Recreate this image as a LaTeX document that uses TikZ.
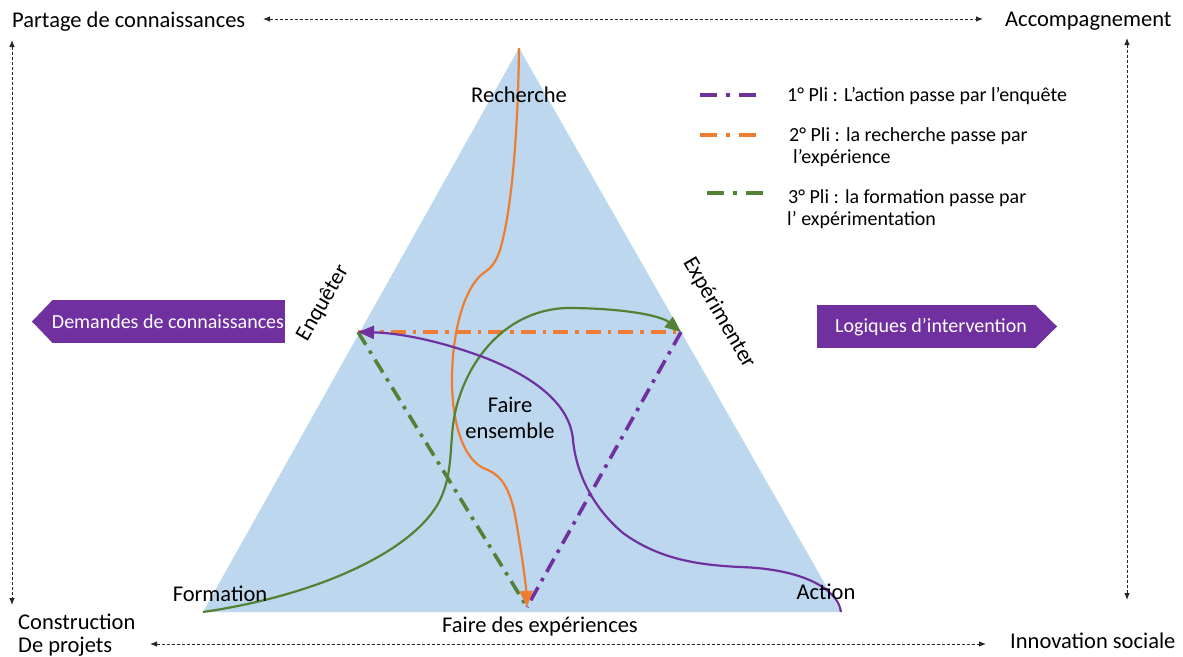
\documentclass[tikz,border=0pt]{standalone}
\usepackage{fontspec}
\setmainfont{Carlito}
\usetikzlibrary{arrows.meta}
\definecolor{triblue}{HTML}{BDD7EE}
\definecolor{plum}{HTML}{7030A0}
\definecolor{orng}{HTML}{ED7D31}
\definecolor{grn}{HTML}{548235}
\begin{document}
\begin{tikzpicture}[x=1pt,y=-1pt,
  lbl/.style={font=\fontsize{22.5}{27}\selectfont, inner sep=0pt, anchor=base},
  lblw/.style={font=\fontsize{22.5}{27}\selectfont, inner sep=0pt, anchor=base west},
  leg/.style={font=\fontsize{20}{24}\selectfont, inner sep=0pt, anchor=base west},
  axisline/.style={dash pattern=on 3pt off 2pt, line width=0.9pt, draw=black!85,
     {Latex[length=7pt,width=5.5pt]}-{Latex[length=7pt,width=5.5pt]}},
  dashdot/.style={line width=3.6pt, dash pattern=on 15pt off 7pt on 3.5pt off 7pt},
  legline/.style={line width=3.8pt, dash pattern=on 17pt off 9pt on 4pt off 9pt},
  curve/.style={line width=2.2pt, -{Triangle[length=16pt,width=13pt]}},
  body/.style={fill=plum, minimum height=43pt, inner sep=0pt},
  boxtext/.style={font=\fontsize{20}{24}\selectfont, text=white, inner sep=0pt, anchor=base}
]
\useasboundingbox (0,0) rectangle (1183,656);

% triangle
\coordinate (apex) at (519,48);
\coordinate (bl) at (203,612);
\coordinate (br) at (841,612);
\fill[triblue] (apex) -- (bl) -- (br) -- cycle;

% inner triangle points
\coordinate (enq) at (358,332);
\coordinate (exp) at (681,332);
\coordinate (fde) at (527,607);

% dash-dot lines
\draw[dashdot, orng] (enq) -- (exp);
\draw[dashdot, grn] (enq) -- (fde);
\draw[dashdot, plum] (exp) -- (fde);

% curves
\draw[curve, orng] (apex) .. controls (518,130) and (512,210) .. (500,250)
   .. controls (496,262) and (491,268) .. (485,272)
   .. controls (465,285) and (452,330) .. (452,380)
   .. controls (452,420) and (462,462) .. (488,470)
   .. controls (502,476) and (510,490) .. (515,515)
   .. controls (521,548) and (526,585) .. (fde);
\draw[curve, grn] (bl) .. controls (320,595) and (415,550) .. (440,500)
   .. controls (452,475) and (450,450) .. (453,425)
   .. controls (460,370) and (500,310) .. (567,308)
   .. controls (620,308) and (660,315) .. (exp);
\draw[curve, plum] (br) .. controls (838,590) and (805,569) .. (740,567)
   .. controls (700,565) and (660,560) .. (623,533)
   .. controls (592,507) and (576,472) .. (573,440)
   .. controls (570,402) and (530,375) .. (483,357)
   .. controls (440,341) and (400,333) .. (enq);

% vertex labels
\node[lbl] (recherche) at (519,102) {Recherche};
\node[lbl] (formation) at (220,601) {Formation};
\node[lbl] (action) at (826,599) {Action};
\node[lbl] (fdeLabel) at (540,632) {Faire des expériences};
\node[lbl] (faire) at (510,412) {Faire};
\node[lbl] (ensemble) at (510,438) {ensemble};
\node[font=\fontsize{22.5}{27}\selectfont, inner sep=0pt, rotate=60] (enqLabel) at (323,303) {Enquêter};
\node[font=\fontsize{22.5}{27}\selectfont, inner sep=0pt, rotate=-60] (expLabel) at (719,313) {Expérimenter};

% corner labels
\node[lblw] (partage) at (12,27) {Partage de connaissances};
\node[lblw] (accomp) at (1005,26) {Accompagnement};
\node[lblw] (constr) at (18,629) {Construction};
\node[lblw] (projets) at (18,652) {De projets};
\node[lblw] (innov) at (1010,648) {Innovation sociale};

% axis arrows
\coordinate (t1) at (263,19); \coordinate (t2) at (983,19);
\coordinate (l1) at (12,40);  \coordinate (l2) at (12,605);
\coordinate (r1) at (1127,38); \coordinate (r2) at (1127,600);
\coordinate (b1) at (150,644); \coordinate (b2) at (986,644);
\draw[axisline] (t1) -- (t2);
\draw[axisline] (l1) -- (l2);
\draw[axisline] (r1) -- (r2);
\draw[axisline] (b1) -- (b2);

% side boxes
\node[body, minimum width=232pt] (dembox) at (169,321.5) {};
\fill[plum] (dembox.north west) -- (32,321.5) -- (dembox.south west) -- cycle;
\node[boxtext] (demtext) at (168,328.5) {Demandes de connaissances};
\node[body, minimum width=218pt] (logbox) at (926,326.5) {};
\fill[plum] (logbox.north east) -- (1057,326.5) -- (logbox.south east) -- cycle;
\node[boxtext] (logtext) at (931,332.5) {Logiques d’intervention};

% legend
\coordinate (la1) at (700,95); \coordinate (lb1) at (760,95);
\coordinate (la2) at (700,135); \coordinate (lb2) at (760,135);
\coordinate (la3) at (707,193); \coordinate (lb3) at (767,193);
\draw[legline, plum] (la1) -- (lb1);
\draw[legline, orng] (la2) -- (lb2);
\draw[legline, grn] (la3) -- (lb3);
\node[leg] (leg1) at (787,101) {1° Pli : L’action passe par l’enquête};
\node[leg] (leg2a) at (789,141) {2° Pli : la recherche passe par};
\node[leg] (leg2b) at (793,163.5) {l’expérience};
\node[leg] (leg3a) at (788,203) {3° Pli : la formation passe par};
\node[leg] (leg3b) at (787,225) {l’ expérimentation};
\end{tikzpicture}
\end{document}
